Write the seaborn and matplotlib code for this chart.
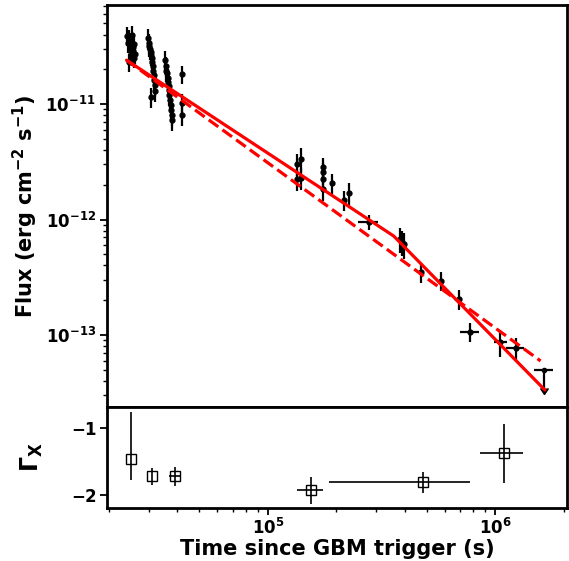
import numpy as np
import pandas as pd
import matplotlib
matplotlib.use("Agg")
import matplotlib.pyplot as plt
import seaborn as sns
from matplotlib.ticker import FuncFormatter, LogLocator, NullFormatter, FixedLocator

# ---------------- data ----------------
# light-curve flux points (s, erg cm^-2 s^-1)
flux_time = [2.40e4, 2.43e4, 2.45e4, 2.47e4, 2.48e4, 2.50e4, 2.51e4, 2.53e4, 2.54e4, 2.55e4,
             2.57e4, 2.58e4, 2.60e4, 2.46e4, 2.52e4,
             2.97e4, 2.99e4, 3.01e4, 3.03e4, 3.05e4, 3.07e4, 3.09e4, 3.10e4, 3.12e4, 3.13e4,
             3.15e4, 3.16e4, 3.18e4, 3.19e4, 3.06e4,
             3.53e4, 3.56e4, 3.58e4, 3.60e4, 3.62e4, 3.64e4, 3.66e4, 3.67e4, 3.69e4, 3.71e4,
             3.73e4, 3.75e4, 3.77e4, 3.79e4,
             4.18e4, 4.18e4, 4.18e4,
             1.337e5, 1.337e5, 1.396e5, 1.396e5,
             1.75e5, 1.75e5, 1.75e5, 1.75e5, 1.92e5, 2.16e5, 2.27e5,
             2.77e5,
             3.80e5, 3.87e5, 3.95e5,
             4.69e5, 5.79e5, 6.92e5, 7.71e5, 1.052e6, 1.228e6]
flux = [3.9e-11, 3.4e-11, 3.7e-11, 3.0e-11, 3.2e-11, 2.8e-11, 3.5e-11, 2.6e-11, 3.1e-11, 2.9e-11,
        2.5e-11, 3.3e-11, 2.7e-11, 2.3e-11, 4.0e-11,
        3.7e-11, 3.4e-11, 3.2e-11, 3.0e-11, 2.8e-11, 2.65e-11, 2.5e-11, 2.3e-11, 2.15e-11, 1.95e-11,
        1.78e-11, 1.6e-11, 1.45e-11, 1.3e-11, 1.15e-11,
        2.4e-11, 2.15e-11, 1.95e-11, 1.85e-11, 1.68e-11, 1.55e-11, 1.43e-11, 1.32e-11, 1.2e-11, 1.08e-11,
        9.8e-12, 8.9e-12, 8.0e-12, 7.3e-12,
        1.82e-11, 1.02e-11, 8.0e-12,
        3.03e-12, 2.25e-12, 3.34e-12, 2.3e-12,
        2.86e-12, 2.59e-12, 2.25e-12, 1.82e-12, 2.08e-12, 1.48e-12, 1.69e-12,
        9.57e-13,
        6.8e-13, 6.4e-13, 6.1e-13,
        3.53e-13, 2.95e-13, 2.05e-13, 1.07e-13, 8.75e-14, 7.76e-14]
flux_rel_err = [0.18] * 15 + [0.2] * 15 + [0.2] * 14 + [0.18, 0.2, 0.2] + \
               [0.22, 0.22, 0.25, 0.22] + [0.2, 0.2, 0.2, 0.2, 0.2, 0.2, 0.22] + [0.15] + \
               [0.25, 0.25, 0.25] + [0.2, 0.19, 0.2, 0.18, 0.26, 0.21]
flux_time_err = [0.0] * 58 + [2.9e4] + [0.0, 0.0, 0.0] + [0.0, 0.0, 0.0, 7.4e4, 6.9e4, 1.1e5]

# upper limit
ul_time = [1.635e6]
ul_time_err = [1.6e5]
ul_flux = [4.98e-14]
ul_len = [1.53e-14]

# model curves
model_solid_t = [2.39e4, 3.57e5, 1.65e6]
model_solid_f = [2.40e-11, 7.2e-13, 3.34e-14]
model_dash_t = [2.39e4, 1.58e6]
model_dash_f = [2.40e-11, 5.96e-14]

# photon index panel
gam_time = [2.51e4, 3.10e4, 3.89e4, 1.545e5, 4.81e5, 1.09e6]
gam_time_err = [0.0, 0.0, 2.2e3, 2.0e4, 2.95e5, 2.35e5]
gamma = [-1.458, -1.72, -1.72, -1.925, -1.81, -1.373]
gamma_err_lo = [0.32, 0.13, 0.15, 0.20, 0.16, 0.45]
gamma_err_hi = [0.70, 0.12, 0.14, 0.20, 0.16, 0.44]

flux_ticks = [1e-13, 1e-12, 1e-11]
time_ticks = [1e5, 1e6]
gamma_ticks = [-2, -1]

# ---------------- styling ----------------
sns.set_style("ticks")
plt.rcParams['font.family'] = ['DejaVu Sans']
plt.rcParams['font.weight'] = 'bold'
plt.rcParams['axes.labelweight'] = 'bold'
plt.rcParams['mathtext.fontset'] = 'dejavusans'
plt.rcParams['mathtext.default'] = 'bf'
for k in ['text.color', 'axes.labelcolor', 'xtick.color', 'ytick.color', 'axes.edgecolor']:
    plt.rcParams[k] = 'black'

fig = plt.figure(figsize=(5.69, 5.61), dpi=100)
gs = fig.add_gridspec(2, 1, height_ratios=[402, 101], hspace=0,
                      left=0.188, right=0.997, top=0.991, bottom=0.0945)
ax1 = fig.add_subplot(gs[0])
ax2 = fig.add_subplot(gs[1], sharex=ax1)

for ax in (ax1, ax2):
    ax.set_xscale('log')
    for s in ax.spines.values():
        s.set_linewidth(2)
        s.set_color('black')
ax1.set_yscale('log')

# model lines
df_s = pd.DataFrame({'t': model_solid_t, 'f': model_solid_f})
df_d = pd.DataFrame({'t': model_dash_t, 'f': model_dash_f})
sns.lineplot(data=df_s, x='t', y='f', ax=ax1, color='red', lw=2.3, estimator=None, sort=False, zorder=4)
sns.lineplot(data=df_d, x='t', y='f', ax=ax1, color='red', lw=2.3, ls='--', estimator=None, sort=False, zorder=4)

# flux points
f = np.array(flux)
ferr = f * np.array(flux_rel_err)
ax1.errorbar(flux_time, flux, yerr=ferr, xerr=flux_time_err, fmt='o', color='black',
             ms=3.5, elinewidth=1.6, capsize=0, zorder=3)
ax1.errorbar(ul_time, ul_flux, yerr=ul_len, xerr=ul_time_err, uplims=True, fmt='o',
             color='black', ms=3, elinewidth=1.6, capsize=0, zorder=3)

ax1.set_xlim(1.96e4, 2.07e6)
ax1.set_ylim(2.38e-14, 7.2e-11)
ax1.set_xlabel('')
ax1.set_ylabel(r'Flux (erg cm$^{\mathbf{-2}}$ s$^{\mathbf{-1}}$)', fontsize=15, fontweight='bold')
ax1.yaxis.set_label_coords(-0.145, 0.5)
ax1.yaxis.set_major_locator(FixedLocator(flux_ticks))
ax1.yaxis.set_minor_locator(LogLocator(base=10, subs=np.arange(2, 10), numticks=10))
ax1.yaxis.set_major_formatter(FuncFormatter(lambda v, p: r'$\mathbf{10^{%d}}$' % int(round(np.log10(v)))))
ax1.yaxis.set_minor_formatter(NullFormatter())
ax1.tick_params(axis='x', which='both', bottom=False, labelbottom=False)
ax1.tick_params(axis='y', which='major', length=5, width=1.3, labelsize=12, pad=3)
ax1.tick_params(axis='y', which='minor', length=3, width=1)

# photon index panel
ax2.errorbar(gam_time, gamma, yerr=[gamma_err_lo, gamma_err_hi], xerr=gam_time_err,
             fmt='s', mfc='none', mec='black', ms=7, mew=1.0, ecolor='black',
             elinewidth=1.2, capsize=0)
ax2.set_ylim(-2.19, -0.687)
ax2.yaxis.set_major_locator(FixedLocator(gamma_ticks))
ax2.yaxis.set_major_formatter(FuncFormatter(lambda v, p: r'$\mathbf{%d}$' % int(round(v))))
ax2.set_ylabel(r'$\mathbf{\Gamma_X}$', fontsize=17)
ax2.yaxis.set_label_coords(-0.135, 0.5)
ax2.set_xlabel('Time since GBM trigger (s)', fontsize=15, fontweight='bold', labelpad=1)
ax2.xaxis.set_major_locator(FixedLocator(time_ticks))
ax2.xaxis.set_minor_locator(LogLocator(base=10, subs=np.arange(2, 10), numticks=10))
ax2.xaxis.set_major_formatter(FuncFormatter(lambda v, p: r'$\mathbf{10^{%d}}$' % int(round(np.log10(v)))))
ax2.xaxis.set_minor_formatter(NullFormatter())
ax2.tick_params(axis='both', which='major', length=5, width=1.3, labelsize=12, pad=2)
ax2.tick_params(axis='both', which='minor', length=3, width=1)
ax2.set_xlim(1.96e4, 2.07e6)

fig.savefig('out.png', dpi=100)
